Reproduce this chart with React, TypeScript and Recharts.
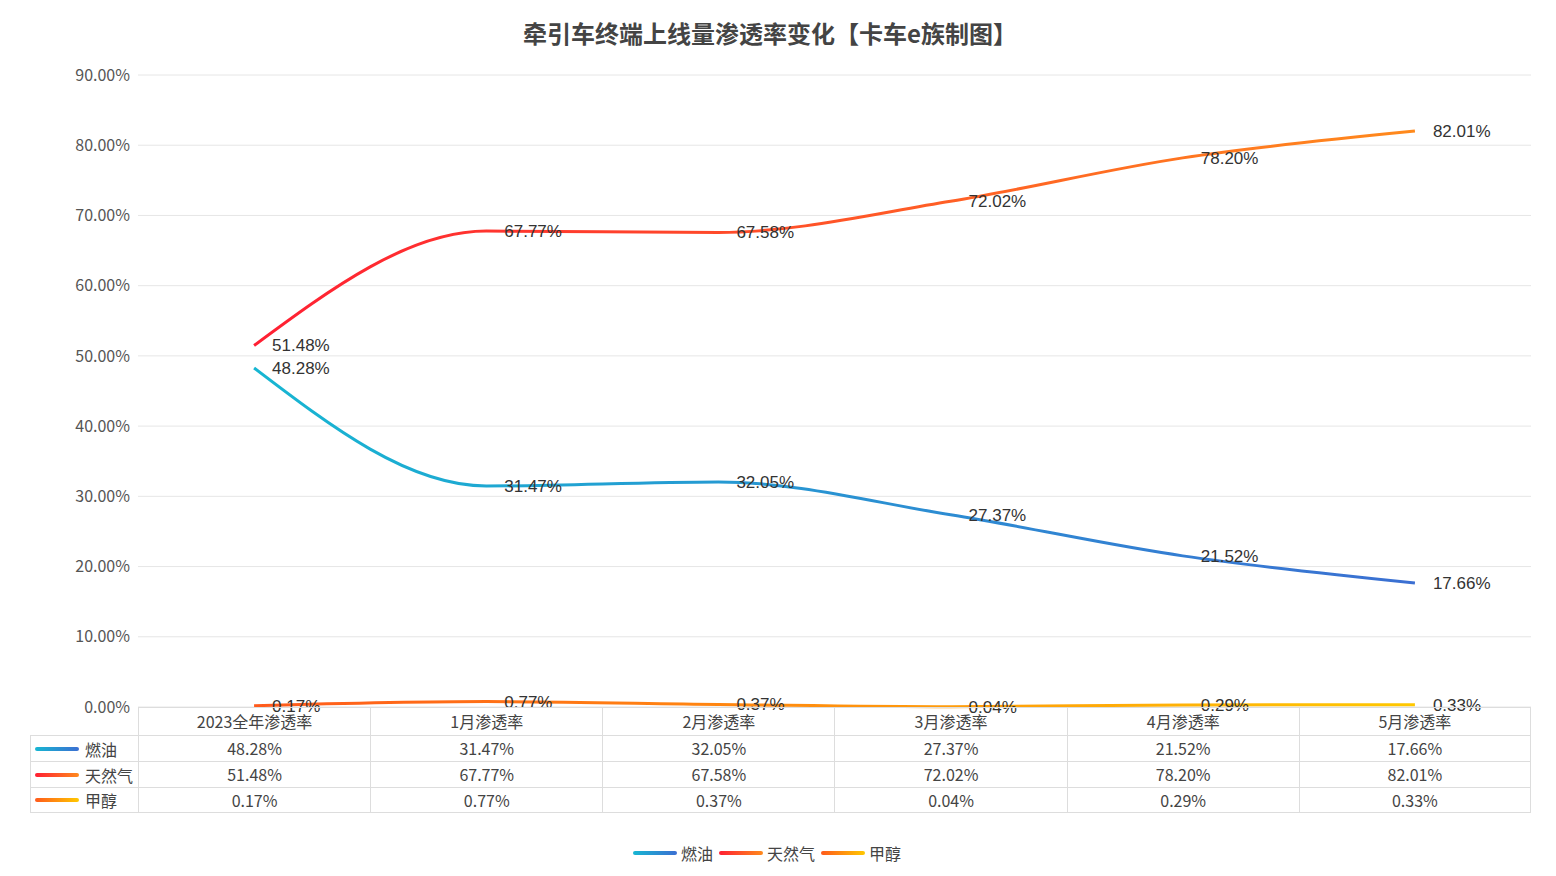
import React from 'react'
import { LineChart, Line, XAxis, YAxis, CartesianGrid, LabelList } from 'recharts'

const categories = ['2023全年渗透率', '1月渗透率', '2月渗透率', '3月渗透率', '4月渗透率', '5月渗透率']
const fuel = [48.28, 31.47, 32.05, 27.37, 21.52, 17.66]
const gas = [51.48, 67.77, 67.58, 72.02, 78.2, 82.01]
const methanol = [0.17, 0.77, 0.37, 0.04, 0.29, 0.33]
const yTicks = [0, 10, 20, 30, 40, 50, 60, 70, 80, 90]

const series = [
  { key: 'fuel', name: '燃油', values: fuel, from: '#17b6d2', to: '#3b6fd2' },
  { key: 'gas', name: '天然气', values: gas, from: '#ff1f33', to: '#ff8a1c' },
  { key: 'methanol', name: '甲醇', values: methanol, from: '#ff5a1c', to: '#ffc800' },
]

const data = categories.map((c, i) => ({
  name: c,
  fuel: fuel[i],
  gas: gas[i],
  methanol: methanol[i],
}))

const FONT = '"Noto Sans CJK SC", "Noto Sans", sans-serif'
const fmt = (v: number) => `${v.toFixed(2)}%`

const renderLabel = (props: any) => {
  const { x, y, value } = props
  return (
    <text x={x + 18} y={y + 6} fontSize={17} fill="#333" fontFamily='"Liberation Sans", Arial, sans-serif'>
      {fmt(value)}
    </text>
  )
}

const PLOT_LEFT = 138
const PLOT_RIGHT = 1531
const COL_W = (PLOT_RIGHT - PLOT_LEFT) / categories.length

const cell = (last: boolean, h: number): React.CSSProperties => ({
  width: COL_W,
  boxSizing: 'border-box',
  textAlign: 'center',
  borderLeft: '1px solid #ddd',
  borderRight: last ? '1px solid #ddd' : undefined,
  lineHeight: `${h}px`,
})

export default function App() {
  return (
    <div style={{ position: 'absolute', left: 0, top: 0, width: 1556, height: 876, background: '#fff', fontFamily: FONT }}>
      <div style={{ position: 'absolute', top: 15, left: 0, width: 1540, textAlign: 'center', fontSize: 24, fontWeight: 'bold', color: '#444' }}>
        牵引车终端上线量渗透率变化【卡车e族制图】
      </div>
      <LineChart width={1556} height={876} data={data} margin={{ top: 75, right: 25, left: 8, bottom: 169 }}>
        <defs>
          {series.map((s) => (
            <linearGradient key={s.key} id={`g-${s.key}`} x1="0" y1="0" x2="1" y2="0">
              <stop offset="0%" stopColor={s.from} />
              <stop offset="100%" stopColor={s.to} />
            </linearGradient>
          ))}
        </defs>
        <CartesianGrid vertical={false} stroke="#e6e6e6" />
        <XAxis dataKey="name" scale="band" hide />
        <YAxis
          width={130}
          domain={[0, 90]}
          ticks={yTicks}
          tickFormatter={fmt}
          tick={{ fontSize: 16, fill: '#555', fontFamily: FONT }}
          tickLine={false}
          axisLine={false}
        />
        {series.map((s) => (
          <Line
            key={s.key}
            type="monotone"
            dataKey={s.key}
            stroke={`url(#g-${s.key})`}
            strokeWidth={3}
            dot={false}
            isAnimationActive={false}
          >
            <LabelList dataKey={s.key} content={renderLabel} />
          </Line>
        ))}
      </LineChart>

      {/* data table */}
      <div style={{ position: 'absolute', left: 30, top: 707, width: PLOT_RIGHT - 30, fontSize: 16, color: '#444' }}>
        <div style={{ display: 'flex', height: 28, boxSizing: 'border-box', marginLeft: PLOT_LEFT - 30, borderTop: '1px solid #ddd' }}>
          {categories.map((c, i) => (
            <div key={c} style={cell(i === categories.length - 1, 27)}>
              {c}
            </div>
          ))}
        </div>
        {series.map((s) => (
          <div key={s.key} style={{ display: 'flex', height: 26, boxSizing: 'border-box', borderTop: '1px solid #ddd', borderBottom: s.key === 'methanol' ? '1px solid #ddd' : undefined, borderLeft: '1px solid #ddd' }}>
            <div style={{ width: PLOT_LEFT - 31, display: 'flex', alignItems: 'center' }}>
              <span style={{ display: 'inline-block', width: 44, height: 4, borderRadius: 2, marginLeft: 4, marginRight: 6, background: `linear-gradient(90deg, ${s.from}, ${s.to})` }} />
              {s.name}
            </div>
            {s.values.map((v, i) => (
              <div key={i} style={cell(i === categories.length - 1, 24)}>
                {fmt(v)}
              </div>
            ))}
          </div>
        ))}
      </div>

      {/* legend */}
      <div style={{ position: 'absolute', top: 841, left: 0, width: 1540, display: 'flex', justifyContent: 'center', fontSize: 16, color: '#444' }}>
        {series.map((s) => (
          <div key={s.key} style={{ display: 'flex', alignItems: 'center', marginRight: 6 }}>
            <span style={{ display: 'inline-block', width: 44, height: 4, borderRadius: 2, marginRight: 4, background: `linear-gradient(90deg, ${s.from}, ${s.to})` }} />
            {s.name}
          </div>
        ))}
      </div>
    </div>
  )
}
